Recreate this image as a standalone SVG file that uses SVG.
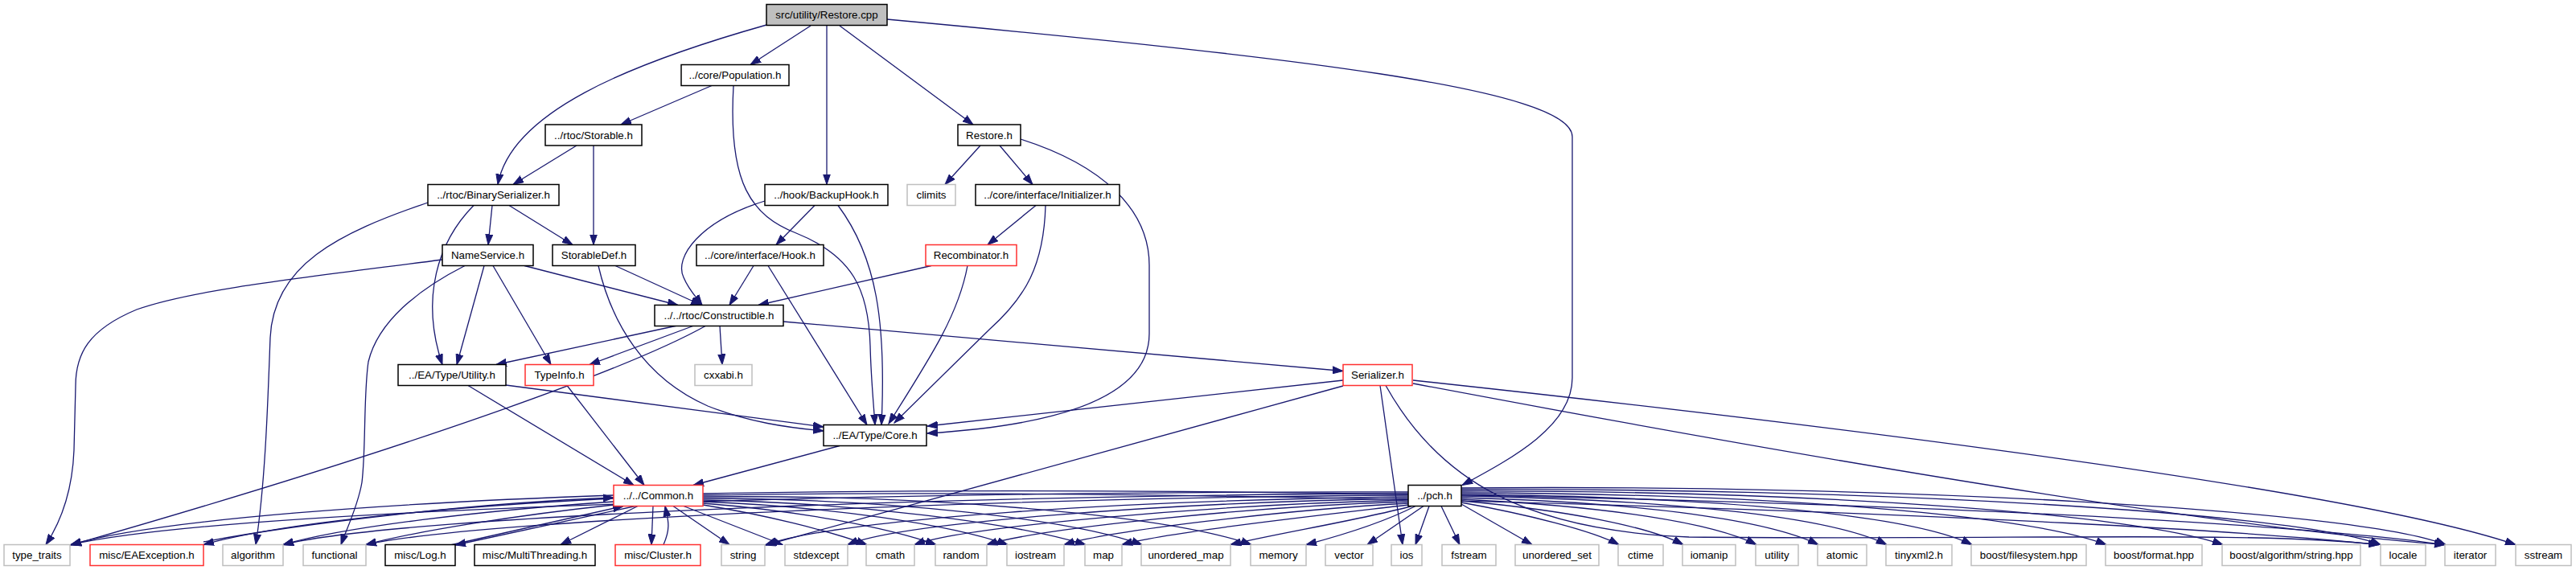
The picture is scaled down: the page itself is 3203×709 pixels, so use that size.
<svg xmlns="http://www.w3.org/2000/svg" width="3203" height="709" viewBox="0 0 3203 709">
<defs>
<style>
.n rect{fill:#fff;stroke:#000;stroke-width:1.5}
.n.x rect{stroke:#bfbfbf}
.n.r rect{stroke:#ff3030}
.n.g rect{fill:#bfbfbf}
.n text{font-family:"Liberation Sans",Arial,sans-serif;font-size:13.33px;text-anchor:middle;fill:#000}
#edges path{fill:none;stroke:#191970;stroke-width:1.3;marker-end:url(#a)}
</style>
<marker id="a" markerUnits="userSpaceOnUse" markerWidth="14" markerHeight="10" refX="13" refY="5" orient="auto" viewBox="0 0 14 10"><path d="M0,0.5 L13,5 L0,9.5 z" fill="#191970" stroke="#191970" stroke-width="1"/></marker>
</defs>
<rect width="3203" height="709" fill="#fff"/>
<g id="edges">
<path d="M953,31 C780,80 635,140 619,229.5"/>
<path d="M1008,32 L933,80.5"/>
<path d="M1028,32 L1028,229.5"/>
<path d="M1044,32 L1210,155"/>
<path d="M1103,24 C1600,70 1955,110 1955,170 L1955,470 C1955,530 1880,570 1818,603.5"/>
<path d="M885,106.5 L772,155"/>
<path d="M912,107 C905,230 935,268 990,290 C1060,318 1080,360 1082,430 C1083,470 1086,500 1088,528.5"/>
<path d="M717,181 L638,229.5"/>
<path d="M738,181 L738,304.5"/>
<path d="M612,255.5 L607,304.5"/>
<path d="M633,255.5 L712,304.5"/>
<path d="M589,255.5 C545,300 522,370 550,453.5"/>
<path d="M532,252 C420,290 340,330 336,420 C333,500 330,600 318,677.5"/>
<path d="M1013,255.5 L965,304.5"/>
<path d="M951,250 C870,275 838,320 850,345 C856,360 866,370 873,379.5"/>
<path d="M1042,255.5 C1090,320 1102,400 1096,528.5"/>
<path d="M937,330.5 L907,379.5"/>
<path d="M955,330.5 L1078,528.5"/>
<path d="M1219,181 L1175,229.5"/>
<path d="M1243,181 L1284,229.5"/>
<path d="M1269,173 C1370,205 1429,260 1429,330 L1429,415 C1429,500 1300,530 1153,539"/>
<path d="M1288,255.5 L1228,304.5"/>
<path d="M1300,255.5 C1298,330 1275,370 1230,410 L1112,526"/>
<path d="M1158,330.5 L943,379.5"/>
<path d="M1203,330.5 C1192,390 1160,440 1105,527"/>
<path d="M550,323 C380,345 240,360 170,385 C110,410 94,440 94,480 L92,560 C90,610 75,650 57,677.5"/>
<path d="M602,330.5 L568,453.5"/>
<path d="M613,330.5 L685,453.5"/>
<path d="M652,330.5 L843,379.5"/>
<path d="M578,330.5 C520,360 470,400 458,450 C452,490 455,560 450,600 C445,630 430,660 424,677.5"/>
<path d="M765,330.5 L872,379.5"/>
<path d="M744,330.5 C760,400 800,470 880,505 C930,525 980,532 1024,536"/>
<path d="M842,405 L617,453.5"/>
<path d="M863,405 L733,453.5"/>
<path d="M878,405 C780,460 500,560 88,678"/>
<path d="M895,405 L898,453.5"/>
<path d="M974,400 L1670,461.5"/>
<path d="M582,479.5 L788,603.5"/>
<path d="M629,479 L1024,531"/>
<path d="M705,479.5 L801,603.5"/>
<path d="M1044,554.5 L862,603.5"/>
<path d="M1670,473 L1153,530"/>
<path d="M1670,480 L952,678"/>
<path d="M1716,479.5 L1744,677.5"/>
<path d="M1723,479.5 C1790,600 1900,660 2100,668 C2500,672 2800,660 2958,677.5"/>
<path d="M1757,477 C2250,570 2750,655 3040,677.5"/>
<path d="M1757,473 C2100,510 2900,600 3128,677.5"/>
<path d="M874,628 C950,640 1030,660 1078,677.5"/>
<path d="M874,626 C990,635 1100,655 1164,677.5"/>
<path d="M874,624 C1030,630 1180,652 1253,677.5"/>
<path d="M874,622 C1060,625 1260,650 1350,677.5"/>
<path d="M874,620 C1100,620 1330,645 1420,677.5"/>
<path d="M874,618 C1150,615 1450,640 1556,677.5"/>
<path d="M874,616 C1500,605 2600,640 2958,677.5"/>
<path d="M874,614 C1600,600 2700,630 3040,677.5"/>
<path d="M763,616 C500,625 200,645 88,677.5"/>
<path d="M763,620 C560,630 350,650 253,677.5"/>
<path d="M253,674 C380,650 600,625 763,619"/>
<path d="M763,624 C600,635 430,655 352,677.5"/>
<path d="M763,628 C650,640 520,660 455,677.5"/>
<path d="M790,629.5 L566,678"/>
<path d="M560,678 L775,629.5"/>
<path d="M793,629.5 L697,677.5"/>
<path d="M812,629.5 L810,677.5"/>
<path d="M825,677.5 C835,655 830,645 827,629.5"/>
<path d="M837,629.5 L907,677.5"/>
<path d="M850,629.5 L973,677.5"/>
<path d="M1751,612 C1200,610 300,630 88,677.5"/>
<path d="M1751,614 C1250,615 500,640 352,677.5"/>
<path d="M1751,616 C1300,618 600,645 455,677.5"/>
<path d="M1751,618 C1400,622 1050,645 952,677.5"/>
<path d="M1751,620 C1450,625 1120,650 1054,677.5"/>
<path d="M1751,622 C1500,628 1200,655 1137,677.5"/>
<path d="M1751,624 C1550,630 1290,658 1227,677.5"/>
<path d="M1751,626 C1600,634 1380,660 1323,677.5"/>
<path d="M1751,628 C1650,640 1450,662 1395,677.5"/>
<path d="M1755,629.5 C1700,645 1580,665 1530,677.5"/>
<path d="M1760,629.5 C1720,650 1660,668 1624,677.5"/>
<path d="M1770,629.5 L1700,677.5"/>
<path d="M1777,629.5 L1760,677.5"/>
<path d="M1792,629.5 L1815,677.5"/>
<path d="M1817,627 L1905,677.5"/>
<path d="M1817,625 C1900,640 1980,660 2013,677.5"/>
<path d="M1817,623 C1950,635 2050,655 2093,677.5"/>
<path d="M1817,621 C2000,630 2130,650 2184,677.5"/>
<path d="M1817,619 C2050,625 2200,648 2261,677.5"/>
<path d="M1817,617 C2100,622 2280,645 2346,677.5"/>
<path d="M1817,615 C2150,618 2380,642 2452,677.5"/>
<path d="M1817,613 C2200,614 2520,640 2619,677.5"/>
<path d="M1817,611 C2250,610 2650,638 2764,677.5"/>
<path d="M1817,609 C2300,606 2850,636 2960,677.5"/>
<path d="M1817,607 C2350,602 2930,634 3041,677.5"/>
</g>
<g id="n_root" class="n g"><rect x="953" y="5.5" width="150" height="26"/><text x="1028" y="23">src/utility/Restore.cpp</text></g>
<g id="n_pop" class="n"><rect x="847" y="80.5" width="134" height="26"/><text x="914" y="98">../core/Population.h</text></g>
<g id="n_storable" class="n"><rect x="678" y="155" width="120" height="26"/><text x="738" y="172.5">../rtoc/Storable.h</text></g>
<g id="n_restoreh" class="n"><rect x="1191" y="155" width="78" height="26"/><text x="1230" y="172.5">Restore.h</text></g>
<g id="n_binser" class="n"><rect x="532" y="229.5" width="163" height="26"/><text x="613.5" y="247">../rtoc/BinarySerializer.h</text></g>
<g id="n_backup" class="n"><rect x="951" y="229.5" width="153" height="26"/><text x="1027.5" y="247">../hook/BackupHook.h</text></g>
<g id="n_climits" class="n x"><rect x="1128" y="229.5" width="60" height="26"/><text x="1158" y="247">climits</text></g>
<g id="n_init" class="n"><rect x="1213" y="229.5" width="179" height="26"/><text x="1302.5" y="247">../core/interface/Initializer.h</text></g>
<g id="n_namesvc" class="n"><rect x="550" y="304.5" width="113" height="26"/><text x="606.5" y="322">NameService.h</text></g>
<g id="n_stordef" class="n"><rect x="687" y="304.5" width="103" height="26"/><text x="738.5" y="322">StorableDef.h</text></g>
<g id="n_hook" class="n"><rect x="866" y="304.5" width="158" height="26"/><text x="945" y="322">../core/interface/Hook.h</text></g>
<g id="n_recomb" class="n r"><rect x="1151" y="304.5" width="113" height="26"/><text x="1207.5" y="322">Recombinator.h</text></g>
<g id="n_constr" class="n"><rect x="814" y="379.5" width="160" height="26"/><text x="894" y="397">../../rtoc/Constructible.h</text></g>
<g id="n_utility" class="n"><rect x="495" y="453.5" width="134" height="26"/><text x="562" y="471">../EA/Type/Utility.h</text></g>
<g id="n_typeinfo" class="n r"><rect x="653" y="453.5" width="85" height="26"/><text x="695.5" y="471">TypeInfo.h</text></g>
<g id="n_cxxabi" class="n x"><rect x="864" y="453.5" width="71" height="26"/><text x="899.5" y="471">cxxabi.h</text></g>
<g id="n_serial" class="n r"><rect x="1670" y="453.5" width="86" height="26"/><text x="1713" y="471">Serializer.h</text></g>
<g id="n_core" class="n"><rect x="1024" y="528.5" width="128" height="26"/><text x="1088" y="546">../EA/Type/Core.h</text></g>
<g id="n_common" class="n r"><rect x="763" y="603.5" width="111" height="26"/><text x="818.5" y="621">../../Common.h</text></g>
<g id="n_pch" class="n"><rect x="1751" y="603.5" width="66" height="26"/><text x="1784" y="621">../pch.h</text></g>
<g id="n_type_traits" class="n x"><rect x="5" y="677.5" width="82" height="26"/><text x="46" y="695">type_traits</text></g>
<g id="n_eaexc" class="n r"><rect x="112" y="677.5" width="141" height="26"/><text x="182.5" y="695">misc/EAException.h</text></g>
<g id="n_algorithm" class="n x"><rect x="277" y="677.5" width="75" height="26"/><text x="314.5" y="695">algorithm</text></g>
<g id="n_functional" class="n x"><rect x="377" y="677.5" width="78" height="26"/><text x="416" y="695">functional</text></g>
<g id="n_log" class="n"><rect x="479" y="677.5" width="87" height="26"/><text x="522.5" y="695">misc/Log.h</text></g>
<g id="n_mt" class="n"><rect x="590" y="677.5" width="150" height="26"/><text x="665" y="695">misc/MultiThreading.h</text></g>
<g id="n_cluster" class="n r"><rect x="765" y="677.5" width="106" height="26"/><text x="818" y="695">misc/Cluster.h</text></g>
<g id="n_string" class="n x"><rect x="897" y="677.5" width="54" height="26"/><text x="924" y="695">string</text></g>
<g id="n_stdexcept" class="n x"><rect x="976" y="677.5" width="78" height="26"/><text x="1015" y="695">stdexcept</text></g>
<g id="n_cmath" class="n x"><rect x="1077" y="677.5" width="60" height="26"/><text x="1107" y="695">cmath</text></g>
<g id="n_random" class="n x"><rect x="1163" y="677.5" width="64" height="26"/><text x="1195" y="695">random</text></g>
<g id="n_iostream" class="n x"><rect x="1252" y="677.5" width="71" height="26"/><text x="1287.5" y="695">iostream</text></g>
<g id="n_map" class="n x"><rect x="1349" y="677.5" width="46" height="26"/><text x="1372" y="695">map</text></g>
<g id="n_umap" class="n x"><rect x="1419" y="677.5" width="111" height="26"/><text x="1474.5" y="695">unordered_map</text></g>
<g id="n_memory" class="n x"><rect x="1555" y="677.5" width="69" height="26"/><text x="1589.5" y="695">memory</text></g>
<g id="n_vector" class="n x"><rect x="1648" y="677.5" width="59" height="26"/><text x="1677.5" y="695">vector</text></g>
<g id="n_ios" class="n x"><rect x="1730" y="677.5" width="38" height="26"/><text x="1749" y="695">ios</text></g>
<g id="n_fstream" class="n x"><rect x="1793" y="677.5" width="67" height="26"/><text x="1826.5" y="695">fstream</text></g>
<g id="n_uset" class="n x"><rect x="1884" y="677.5" width="104" height="26"/><text x="1936" y="695">unordered_set</text></g>
<g id="n_ctime" class="n x"><rect x="2012" y="677.5" width="56" height="26"/><text x="2040" y="695">ctime</text></g>
<g id="n_iomanip" class="n x"><rect x="2092" y="677.5" width="66" height="26"/><text x="2125" y="695">iomanip</text></g>
<g id="n_utilityh" class="n x"><rect x="2183" y="677.5" width="53" height="26"/><text x="2209.5" y="695">utility</text></g>
<g id="n_atomic" class="n x"><rect x="2260" y="677.5" width="61" height="26"/><text x="2290.5" y="695">atomic</text></g>
<g id="n_tinyxml" class="n x"><rect x="2345" y="677.5" width="82" height="26"/><text x="2386" y="695">tinyxml2.h</text></g>
<g id="n_bfs" class="n x"><rect x="2451" y="677.5" width="143" height="26"/><text x="2522.5" y="695">boost/filesystem.hpp</text></g>
<g id="n_bfmt" class="n x"><rect x="2618" y="677.5" width="120" height="26"/><text x="2678" y="695">boost/format.hpp</text></g>
<g id="n_balg" class="n x"><rect x="2763" y="677.5" width="172" height="26"/><text x="2849" y="695">boost/algorithm/string.hpp</text></g>
<g id="n_locale" class="n x"><rect x="2960" y="677.5" width="56" height="26"/><text x="2988" y="695">locale</text></g>
<g id="n_iterator" class="n x"><rect x="3040" y="677.5" width="63" height="26"/><text x="3071.5" y="695">iterator</text></g>
<g id="n_sstream" class="n x"><rect x="3128" y="677.5" width="69" height="26"/><text x="3162.5" y="695">sstream</text></g>
</svg>
